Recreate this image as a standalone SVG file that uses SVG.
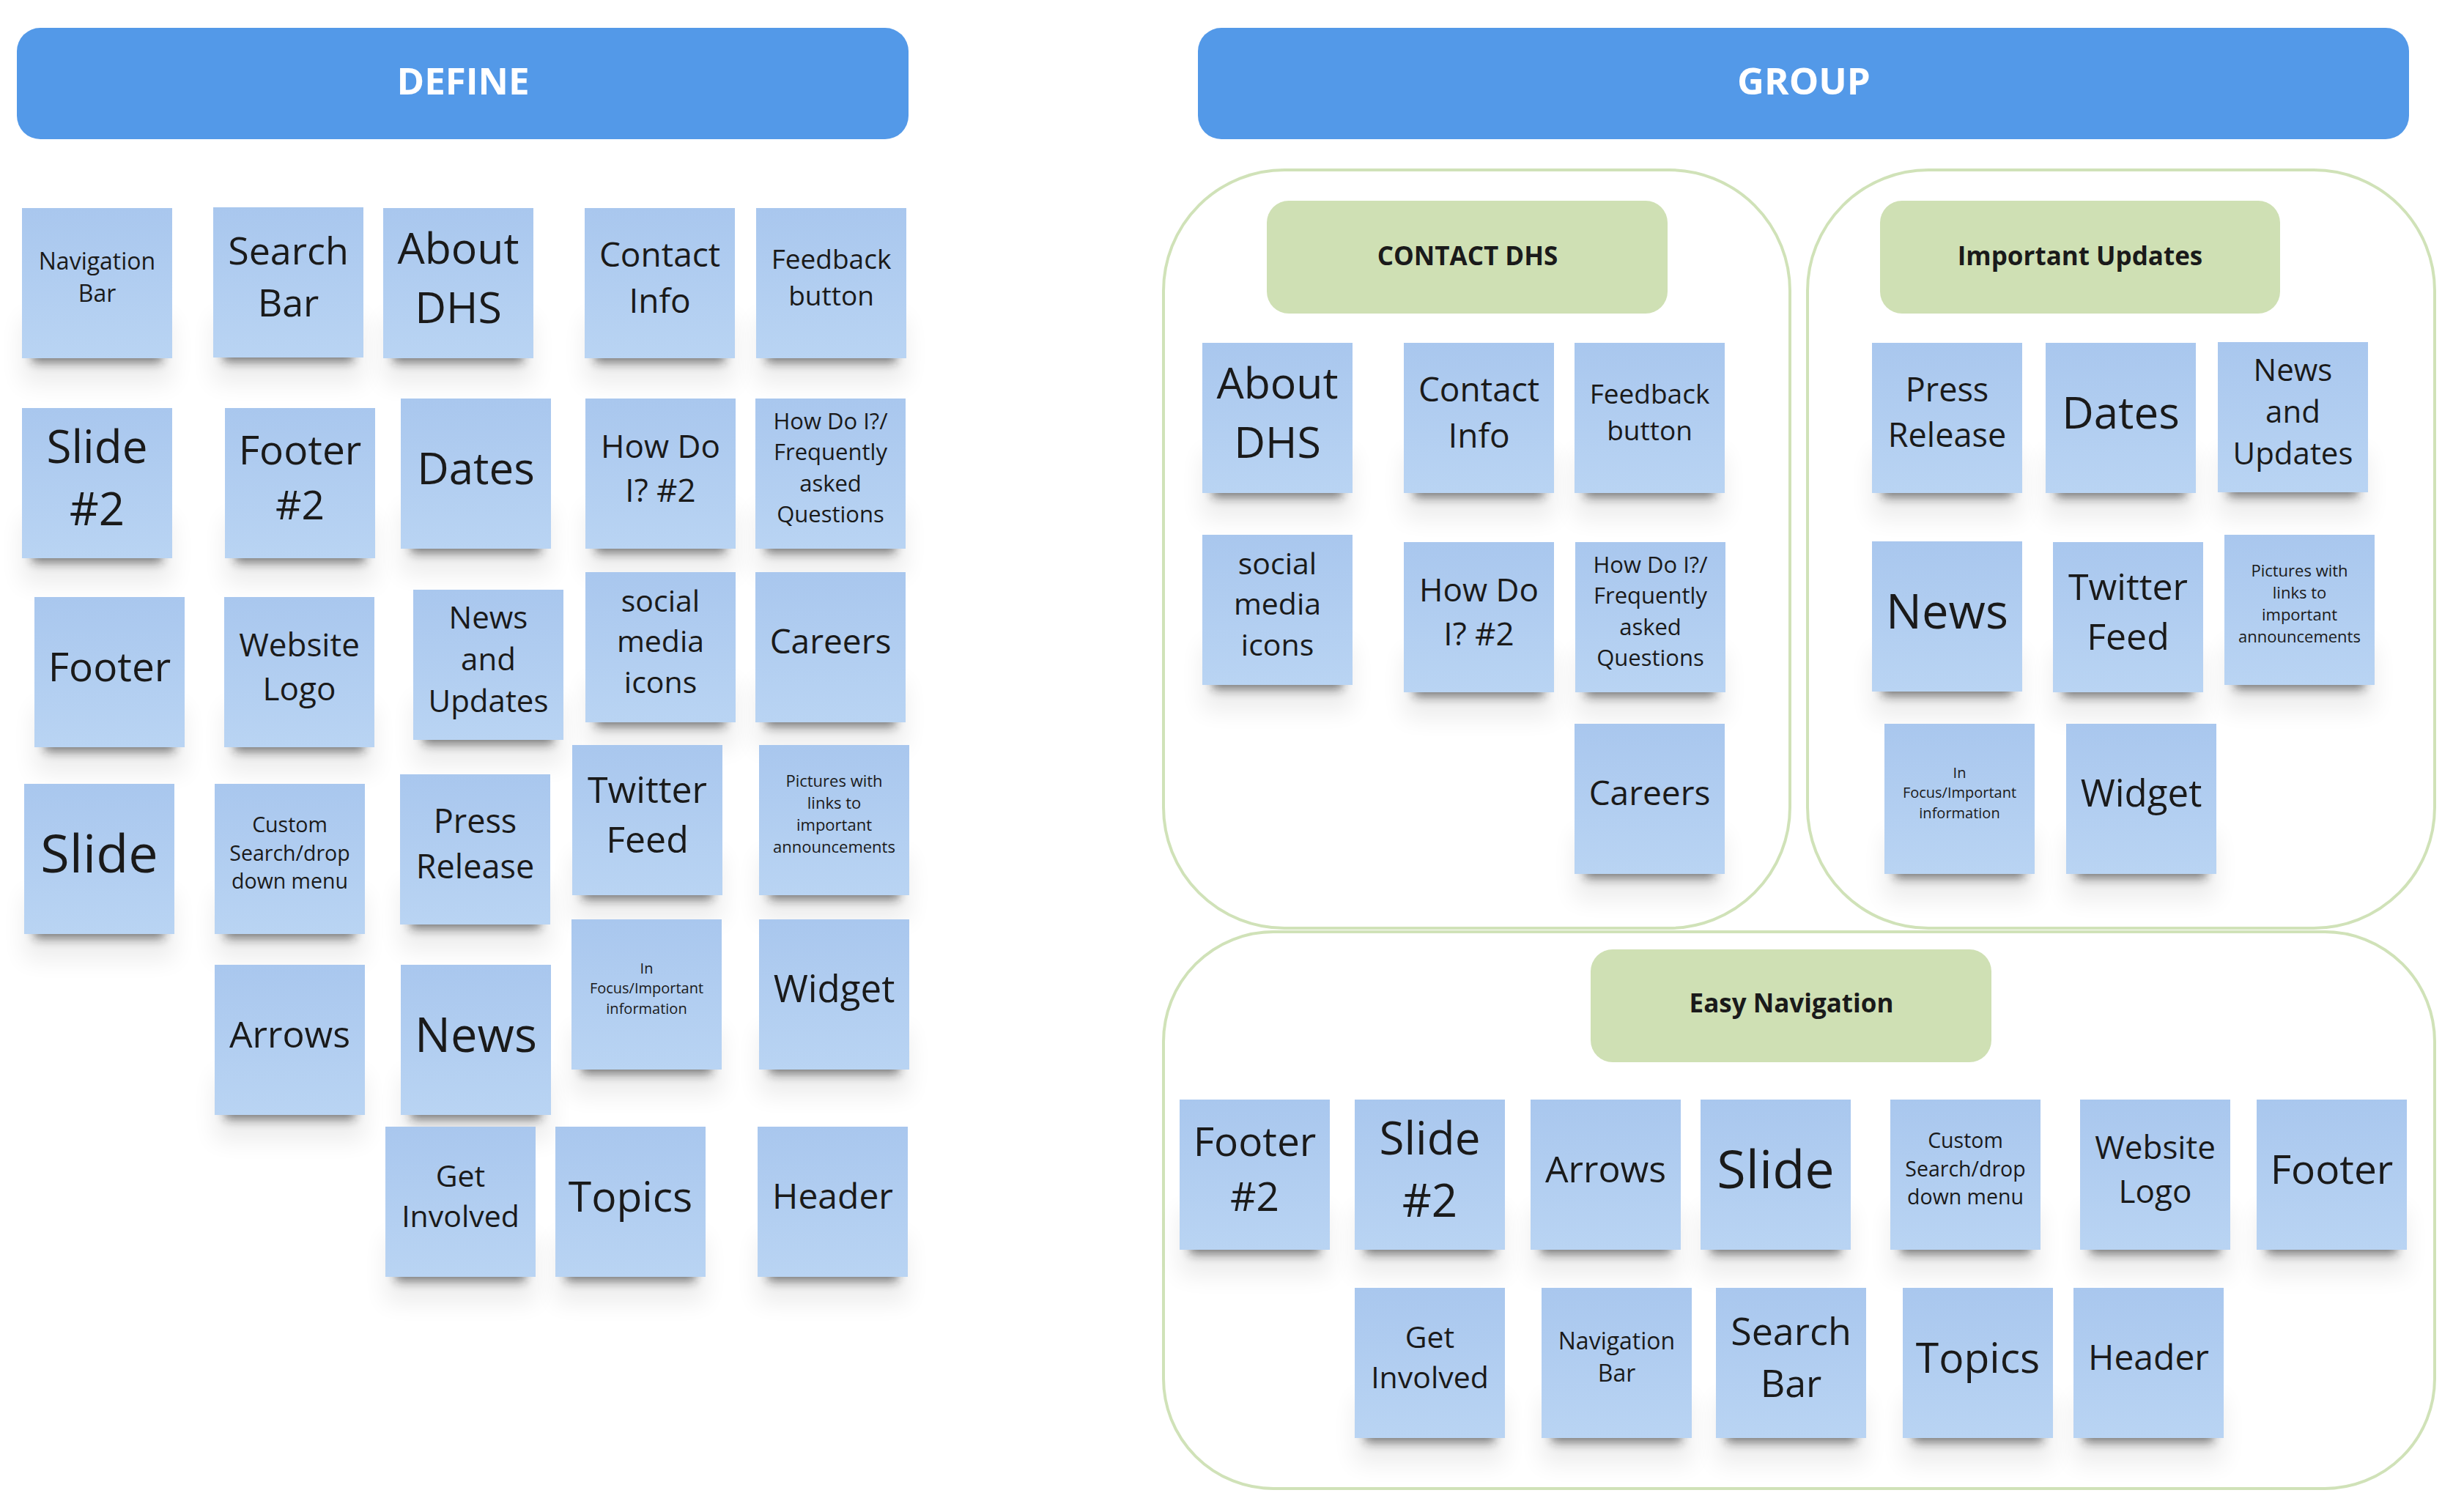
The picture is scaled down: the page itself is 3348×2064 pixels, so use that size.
<svg xmlns="http://www.w3.org/2000/svg" width="3348" height="2064" viewBox="0 0 3348 2064">
<defs>
<linearGradient id="ng" x1="0" y1="0" x2="0" y2="1">
<stop offset="0" stop-color="#A9C7EE"/>
<stop offset="1" stop-color="#B9D4F3"/>
</linearGradient>
<filter id="b1" x="-20%" y="-80%" width="140%" height="260%"><feGaussianBlur stdDeviation="7"/></filter>
<filter id="b2" x="-30%" y="-60%" width="160%" height="220%"><feGaussianBlur stdDeviation="16"/></filter>
</defs>
<style>
.note{fill:url(#ng)}
.sh{fill:#1c1c1c;opacity:.55;filter:url(#b1)}
.halo{fill:#000;opacity:.07;filter:url(#b2)}
.t{font-family:"Open Sans","Liberation Sans",sans-serif;fill:#1a1a1a;text-anchor:middle}
.hdr{fill:#5399E8}
.htxt{font-family:"Open Sans","Liberation Sans",sans-serif;font-weight:700;font-size:51px;fill:#ffffff;text-anchor:middle}
.grp{fill:#ffffff;stroke:#D0E2B8;stroke-width:4}
.lbl{fill:#CFE0B4}
.ltxt{font-family:"Open Sans","Liberation Sans",sans-serif;font-weight:700;font-size:35px;fill:#1a1a1a;text-anchor:middle}
</style>
<rect width="3348" height="2064" fill="#ffffff"/>

<g id="define-header"><rect class="hdr" x="23" y="38" width="1217" height="152" rx="32"/><text class="htxt" x="632" y="129">DEFINE</text></g>
<g id="group-header"><rect class="hdr" x="1635" y="38" width="1653" height="152" rx="32"/><text class="htxt" x="2462" y="129">GROUP</text></g>

<g id="group-contact-dhs"><rect class="grp" x="1588" y="232" width="855" height="1035" rx="165"/><rect class="lbl" x="1729" y="274" width="547" height="154" rx="30"/><text class="ltxt" x="2003" y="362">CONTACT DHS</text></g>
<g id="group-important-updates"><rect class="grp" x="2467" y="232" width="856" height="1035" rx="165"/><rect class="lbl" x="2566" y="274" width="546" height="154" rx="30"/><text class="ltxt" x="2839" y="362">Important Updates</text></g>
<g id="group-easy-navigation"><rect class="grp" x="1588" y="1272" width="1735" height="760" rx="150"/><rect class="lbl" x="2171" y="1296" width="547" height="154" rx="30"/><text class="ltxt" x="2445" y="1382">Easy Navigation</text></g>

<g id="connectors"></g>

<!-- DEFINE notes -->
<g id="d-navigation-bar" transform="translate(30 284)"><rect class="halo" x="0" y="150" width="205" height="90"/><rect class="sh" x="14" y="175" width="177" height="36"/><rect class="note" width="205" height="205"/><text class="t" x="102.5" y="84.2" font-size="32"><tspan x="102.5">Navigation</tspan><tspan x="102.5" dy="1.36em">Bar</tspan></text></g>
<g id="d-search-bar" transform="translate(291 283)"><rect class="halo" x="0" y="150" width="205" height="90"/><rect class="sh" x="14" y="175" width="177" height="36"/><rect class="note" width="205" height="205"/><text class="t" x="102.5" y="78.3" font-size="52"><tspan x="102.5">Search</tspan><tspan x="102.5" dy="1.36em">Bar</tspan></text></g>
<g id="d-about-dhs" transform="translate(523 284)"><rect class="halo" x="0" y="150" width="205" height="90"/><rect class="sh" x="14" y="175" width="177" height="36"/><rect class="note" width="205" height="205"/><text class="t" x="102.5" y="76.3" font-size="59"><tspan x="102.5">About</tspan><tspan x="102.5" dy="1.36em">DHS</tspan></text></g>
<g id="d-contact-info" transform="translate(798 284)"><rect class="halo" x="0" y="150" width="205" height="90"/><rect class="sh" x="14" y="175" width="177" height="36"/><rect class="note" width="205" height="205"/><text class="t" x="102.5" y="80.1" font-size="46"><tspan x="102.5">Contact</tspan><tspan x="102.5" dy="1.36em">Info</tspan></text></g>
<g id="d-feedback-button" transform="translate(1032 284)"><rect class="halo" x="0" y="150" width="205" height="90"/><rect class="sh" x="14" y="175" width="177" height="36"/><rect class="note" width="205" height="205"/><text class="t" x="102.5" y="82.7" font-size="37"><tspan x="102.5">Feedback</tspan><tspan x="102.5" dy="1.36em">button</tspan></text></g>

<g id="d-slide-2" transform="translate(30 557)"><rect class="halo" x="0" y="150" width="205" height="90"/><rect class="sh" x="14" y="175" width="177" height="36"/><rect class="note" width="205" height="205"/><text class="t" x="102.5" y="75.4" font-size="62"><tspan x="102.5">Slide</tspan><tspan x="102.5" dy="1.36em">#2</tspan></text></g>
<g id="d-footer-2" transform="translate(307 557)"><rect class="halo" x="0" y="150" width="205" height="90"/><rect class="sh" x="14" y="175" width="177" height="36"/><rect class="note" width="205" height="205"/><text class="t" x="102.5" y="77.4" font-size="55"><tspan x="102.5">Footer</tspan><tspan x="102.5" dy="1.36em">#2</tspan></text></g>
<g id="d-dates" transform="translate(547 544)"><rect class="halo" x="0" y="150" width="205" height="90"/><rect class="sh" x="14" y="175" width="177" height="36"/><rect class="note" width="205" height="205"/><text class="t" x="102.5" y="116.8" font-size="60">Dates</text></g>
<g id="d-how-do-i-2" transform="translate(799 544)"><rect class="halo" x="0" y="150" width="205" height="90"/><rect class="sh" x="14" y="175" width="177" height="36"/><rect class="note" width="205" height="205"/><text class="t" x="102.5" y="80.7" font-size="44"><tspan x="102.5">How Do</tspan><tspan x="102.5" dy="1.36em">I? #2</tspan></text></g>
<g id="d-how-do-i-faq" transform="translate(1031 544)"><rect class="halo" x="0" y="150" width="205" height="90"/><rect class="sh" x="14" y="175" width="177" height="36"/><rect class="note" width="205" height="205"/><text class="t" x="102.5" y="42.3" font-size="31"><tspan x="102.5">How Do I?/</tspan><tspan x="102.5" dy="1.36em">Frequently</tspan><tspan x="102.5" dy="1.36em">asked</tspan><tspan x="102.5" dy="1.36em">Questions</tspan></text></g>

<g id="d-footer" transform="translate(47 815)"><rect class="halo" x="0" y="150" width="205" height="90"/><rect class="sh" x="14" y="175" width="177" height="36"/><rect class="note" width="205" height="205"/><text class="t" x="102.5" y="114.8" font-size="55">Footer</text></g>
<g id="d-website-logo" transform="translate(306 815)"><rect class="halo" x="0" y="150" width="205" height="90"/><rect class="sh" x="14" y="175" width="177" height="36"/><rect class="note" width="205" height="205"/><text class="t" x="102.5" y="80.7" font-size="44"><tspan x="102.5">Website</tspan><tspan x="102.5" dy="1.36em">Logo</tspan></text></g>
<g id="d-news-and-updates" transform="translate(564 805)"><rect class="halo" x="0" y="150" width="205" height="90"/><rect class="sh" x="14" y="175" width="177" height="36"/><rect class="note" width="205" height="205"/><text class="t" x="102.5" y="52.7" font-size="42"><tspan x="102.5">News</tspan><tspan x="102.5" dy="1.36em">and</tspan><tspan x="102.5" dy="1.36em">Updates</tspan></text></g>
<g id="d-social-media-icons" transform="translate(799 781)"><rect class="halo" x="0" y="150" width="205" height="90"/><rect class="sh" x="14" y="175" width="177" height="36"/><rect class="note" width="205" height="205"/><text class="t" x="102.5" y="53.6" font-size="41"><tspan x="102.5">social</tspan><tspan x="102.5" dy="1.36em">media</tspan><tspan x="102.5" dy="1.36em">icons</tspan></text></g>
<g id="d-careers" transform="translate(1031 781)"><rect class="halo" x="0" y="150" width="205" height="90"/><rect class="sh" x="14" y="175" width="177" height="36"/><rect class="note" width="205" height="205"/><text class="t" x="102.5" y="111.3" font-size="46">Careers</text></g>

<g id="d-slide" transform="translate(33 1070)"><rect class="halo" x="0" y="150" width="205" height="90"/><rect class="sh" x="14" y="175" width="177" height="36"/><rect class="note" width="205" height="205"/><text class="t" x="102.5" y="121.4" font-size="72">Slide</text></g>
<g id="d-custom-search" transform="translate(293 1070)"><rect class="halo" x="0" y="150" width="205" height="90"/><rect class="sh" x="14" y="175" width="177" height="36"/><rect class="note" width="205" height="205"/><text class="t" x="102.5" y="65.8" font-size="28.5"><tspan x="102.5">Custom</tspan><tspan x="102.5" dy="1.36em">Search/drop</tspan><tspan x="102.5" dy="1.36em">down menu</tspan></text></g>
<g id="d-press-release" transform="translate(546 1057)"><rect class="halo" x="0" y="150" width="205" height="90"/><rect class="sh" x="14" y="175" width="177" height="36"/><rect class="note" width="205" height="205"/><text class="t" x="102.5" y="80.4" font-size="45"><tspan x="102.5">Press</tspan><tspan x="102.5" dy="1.36em">Release</tspan></text></g>
<g id="d-twitter-feed" transform="translate(781 1017)"><rect class="halo" x="0" y="150" width="205" height="90"/><rect class="sh" x="14" y="175" width="177" height="36"/><rect class="note" width="205" height="205"/><text class="t" x="102.5" y="78.9" font-size="50"><tspan x="102.5">Twitter</tspan><tspan x="102.5" dy="1.36em">Feed</tspan></text></g>
<g id="d-pictures-links" transform="translate(1036 1017)"><rect class="halo" x="0" y="150" width="205" height="90"/><rect class="sh" x="14" y="175" width="177" height="36"/><rect class="note" width="205" height="205"/><text class="t" x="102.5" y="57.2" font-size="22"><tspan x="102.5">Pictures with</tspan><tspan x="102.5" dy="1.36em">links to</tspan><tspan x="102.5" dy="1.36em">important</tspan><tspan x="102.5" dy="1.36em">announcements</tspan></text></g>

<g id="d-arrows" transform="translate(293 1317)"><rect class="halo" x="0" y="150" width="205" height="90"/><rect class="sh" x="14" y="175" width="177" height="36"/><rect class="note" width="205" height="205"/><text class="t" x="102.5" y="112.9" font-size="50">Arrows</text></g>
<g id="d-news" transform="translate(547 1317)"><rect class="halo" x="0" y="150" width="205" height="90"/><rect class="sh" x="14" y="175" width="177" height="36"/><rect class="note" width="205" height="205"/><text class="t" x="102.5" y="118.7" font-size="65">News</text></g>
<g id="d-in-focus" transform="translate(780 1255)"><rect class="halo" x="0" y="150" width="205" height="90"/><rect class="sh" x="14" y="175" width="177" height="36"/><rect class="note" width="205" height="205"/><text class="t" x="102.5" y="74.1" font-size="20"><tspan x="102.5">In</tspan><tspan x="102.5" dy="1.36em">Focus/Important</tspan><tspan x="102.5" dy="1.36em">information</tspan></text></g>
<g id="d-widget" transform="translate(1036 1255)"><rect class="halo" x="0" y="150" width="205" height="90"/><rect class="sh" x="14" y="175" width="177" height="36"/><rect class="note" width="205" height="205"/><text class="t" x="102.5" y="113.3" font-size="51">Widget</text></g>

<g id="d-get-involved" transform="translate(526 1538)"><rect class="halo" x="0" y="150" width="205" height="90"/><rect class="sh" x="14" y="175" width="177" height="36"/><rect class="note" width="205" height="205"/><text class="t" x="102.5" y="81.5" font-size="41"><tspan x="102.5">Get</tspan><tspan x="102.5" dy="1.36em">Involved</tspan></text></g>
<g id="d-topics" transform="translate(758 1538)"><rect class="halo" x="0" y="150" width="205" height="90"/><rect class="sh" x="14" y="175" width="177" height="36"/><rect class="note" width="205" height="205"/><text class="t" x="102.5" y="115.6" font-size="57">Topics</text></g>
<g id="d-header" transform="translate(1034 1538)"><rect class="halo" x="0" y="150" width="205" height="90"/><rect class="sh" x="14" y="175" width="177" height="36"/><rect class="note" width="205" height="205"/><text class="t" x="102.5" y="112.1" font-size="48">Header</text></g>

<!-- CONTACT DHS notes -->
<g id="c-about-dhs" transform="translate(1641 468)"><rect class="halo" x="0" y="150" width="205" height="90"/><rect class="sh" x="14" y="175" width="177" height="36"/><rect class="note" width="205" height="205"/><text class="t" x="102.5" y="76.3" font-size="59"><tspan x="102.5">About</tspan><tspan x="102.5" dy="1.36em">DHS</tspan></text></g>
<g id="c-contact-info" transform="translate(1916 468)"><rect class="halo" x="0" y="150" width="205" height="90"/><rect class="sh" x="14" y="175" width="177" height="36"/><rect class="note" width="205" height="205"/><text class="t" x="102.5" y="80.1" font-size="46"><tspan x="102.5">Contact</tspan><tspan x="102.5" dy="1.36em">Info</tspan></text></g>
<g id="c-feedback-button" transform="translate(2149 468)"><rect class="halo" x="0" y="150" width="205" height="90"/><rect class="sh" x="14" y="175" width="177" height="36"/><rect class="note" width="205" height="205"/><text class="t" x="102.5" y="82.7" font-size="37"><tspan x="102.5">Feedback</tspan><tspan x="102.5" dy="1.36em">button</tspan></text></g>
<g id="c-social-media-icons" transform="translate(1641 730)"><rect class="halo" x="0" y="150" width="205" height="90"/><rect class="sh" x="14" y="175" width="177" height="36"/><rect class="note" width="205" height="205"/><text class="t" x="102.5" y="53.6" font-size="41"><tspan x="102.5">social</tspan><tspan x="102.5" dy="1.36em">media</tspan><tspan x="102.5" dy="1.36em">icons</tspan></text></g>
<g id="c-how-do-i-2" transform="translate(1916 740)"><rect class="halo" x="0" y="150" width="205" height="90"/><rect class="sh" x="14" y="175" width="177" height="36"/><rect class="note" width="205" height="205"/><text class="t" x="102.5" y="80.7" font-size="44"><tspan x="102.5">How Do</tspan><tspan x="102.5" dy="1.36em">I? #2</tspan></text></g>
<g id="c-how-do-i-faq" transform="translate(2150 740)"><rect class="halo" x="0" y="150" width="205" height="90"/><rect class="sh" x="14" y="175" width="177" height="36"/><rect class="note" width="205" height="205"/><text class="t" x="102.5" y="42.3" font-size="31"><tspan x="102.5">How Do I?/</tspan><tspan x="102.5" dy="1.36em">Frequently</tspan><tspan x="102.5" dy="1.36em">asked</tspan><tspan x="102.5" dy="1.36em">Questions</tspan></text></g>
<g id="c-careers" transform="translate(2149 988)"><rect class="halo" x="0" y="150" width="205" height="90"/><rect class="sh" x="14" y="175" width="177" height="36"/><rect class="note" width="205" height="205"/><text class="t" x="102.5" y="111.3" font-size="46">Careers</text></g>

<!-- Important Updates notes -->
<g id="i-press-release" transform="translate(2555 468)"><rect class="halo" x="0" y="150" width="205" height="90"/><rect class="sh" x="14" y="175" width="177" height="36"/><rect class="note" width="205" height="205"/><text class="t" x="102.5" y="80.4" font-size="45"><tspan x="102.5">Press</tspan><tspan x="102.5" dy="1.36em">Release</tspan></text></g>
<g id="i-dates" transform="translate(2792 468)"><rect class="halo" x="0" y="150" width="205" height="90"/><rect class="sh" x="14" y="175" width="177" height="36"/><rect class="note" width="205" height="205"/><text class="t" x="102.5" y="116.8" font-size="60">Dates</text></g>
<g id="i-news-and-updates" transform="translate(3027 467)"><rect class="halo" x="0" y="150" width="205" height="90"/><rect class="sh" x="14" y="175" width="177" height="36"/><rect class="note" width="205" height="205"/><text class="t" x="102.5" y="52.7" font-size="42"><tspan x="102.5">News</tspan><tspan x="102.5" dy="1.36em">and</tspan><tspan x="102.5" dy="1.36em">Updates</tspan></text></g>
<g id="i-news" transform="translate(2555 739)"><rect class="halo" x="0" y="150" width="205" height="90"/><rect class="sh" x="14" y="175" width="177" height="36"/><rect class="note" width="205" height="205"/><text class="t" x="102.5" y="118.7" font-size="65">News</text></g>
<g id="i-twitter-feed" transform="translate(2802 740)"><rect class="halo" x="0" y="150" width="205" height="90"/><rect class="sh" x="14" y="175" width="177" height="36"/><rect class="note" width="205" height="205"/><text class="t" x="102.5" y="78.9" font-size="50"><tspan x="102.5">Twitter</tspan><tspan x="102.5" dy="1.36em">Feed</tspan></text></g>
<g id="i-pictures-links" transform="translate(3036 730)"><rect class="halo" x="0" y="150" width="205" height="90"/><rect class="sh" x="14" y="175" width="177" height="36"/><rect class="note" width="205" height="205"/><text class="t" x="102.5" y="57.2" font-size="22"><tspan x="102.5">Pictures with</tspan><tspan x="102.5" dy="1.36em">links to</tspan><tspan x="102.5" dy="1.36em">important</tspan><tspan x="102.5" dy="1.36em">announcements</tspan></text></g>
<g id="i-in-focus" transform="translate(2572 988)"><rect class="halo" x="0" y="150" width="205" height="90"/><rect class="sh" x="14" y="175" width="177" height="36"/><rect class="note" width="205" height="205"/><text class="t" x="102.5" y="74.1" font-size="20"><tspan x="102.5">In</tspan><tspan x="102.5" dy="1.36em">Focus/Important</tspan><tspan x="102.5" dy="1.36em">information</tspan></text></g>
<g id="i-widget" transform="translate(2820 988)"><rect class="halo" x="0" y="150" width="205" height="90"/><rect class="sh" x="14" y="175" width="177" height="36"/><rect class="note" width="205" height="205"/><text class="t" x="102.5" y="113.3" font-size="51">Widget</text></g>

<!-- Easy Navigation notes -->
<g id="e-footer-2" transform="translate(1610 1501)"><rect class="halo" x="0" y="150" width="205" height="90"/><rect class="sh" x="14" y="175" width="177" height="36"/><rect class="note" width="205" height="205"/><text class="t" x="102.5" y="77.4" font-size="55"><tspan x="102.5">Footer</tspan><tspan x="102.5" dy="1.36em">#2</tspan></text></g>
<g id="e-slide-2" transform="translate(1849 1501)"><rect class="halo" x="0" y="150" width="205" height="90"/><rect class="sh" x="14" y="175" width="177" height="36"/><rect class="note" width="205" height="205"/><text class="t" x="102.5" y="75.4" font-size="62"><tspan x="102.5">Slide</tspan><tspan x="102.5" dy="1.36em">#2</tspan></text></g>
<g id="e-arrows" transform="translate(2089 1501)"><rect class="halo" x="0" y="150" width="205" height="90"/><rect class="sh" x="14" y="175" width="177" height="36"/><rect class="note" width="205" height="205"/><text class="t" x="102.5" y="112.9" font-size="50">Arrows</text></g>
<g id="e-slide" transform="translate(2321 1501)"><rect class="halo" x="0" y="150" width="205" height="90"/><rect class="sh" x="14" y="175" width="177" height="36"/><rect class="note" width="205" height="205"/><text class="t" x="102.5" y="121.4" font-size="72">Slide</text></g>
<g id="e-custom-search" transform="translate(2580 1501)"><rect class="halo" x="0" y="150" width="205" height="90"/><rect class="sh" x="14" y="175" width="177" height="36"/><rect class="note" width="205" height="205"/><text class="t" x="102.5" y="65.8" font-size="28.5"><tspan x="102.5">Custom</tspan><tspan x="102.5" dy="1.36em">Search/drop</tspan><tspan x="102.5" dy="1.36em">down menu</tspan></text></g>
<g id="e-website-logo" transform="translate(2839 1501)"><rect class="halo" x="0" y="150" width="205" height="90"/><rect class="sh" x="14" y="175" width="177" height="36"/><rect class="note" width="205" height="205"/><text class="t" x="102.5" y="80.7" font-size="44"><tspan x="102.5">Website</tspan><tspan x="102.5" dy="1.36em">Logo</tspan></text></g>
<g id="e-footer" transform="translate(3080 1501)"><rect class="halo" x="0" y="150" width="205" height="90"/><rect class="sh" x="14" y="175" width="177" height="36"/><rect class="note" width="205" height="205"/><text class="t" x="102.5" y="114.8" font-size="55">Footer</text></g>
<g id="e-get-involved" transform="translate(1849 1758)"><rect class="halo" x="0" y="150" width="205" height="90"/><rect class="sh" x="14" y="175" width="177" height="36"/><rect class="note" width="205" height="205"/><text class="t" x="102.5" y="81.5" font-size="41"><tspan x="102.5">Get</tspan><tspan x="102.5" dy="1.36em">Involved</tspan></text></g>
<g id="e-navigation-bar" transform="translate(2104 1758)"><rect class="halo" x="0" y="150" width="205" height="90"/><rect class="sh" x="14" y="175" width="177" height="36"/><rect class="note" width="205" height="205"/><text class="t" x="102.5" y="84.2" font-size="32"><tspan x="102.5">Navigation</tspan><tspan x="102.5" dy="1.36em">Bar</tspan></text></g>
<g id="e-search-bar" transform="translate(2342 1758)"><rect class="halo" x="0" y="150" width="205" height="90"/><rect class="sh" x="14" y="175" width="177" height="36"/><rect class="note" width="205" height="205"/><text class="t" x="102.5" y="78.3" font-size="52"><tspan x="102.5">Search</tspan><tspan x="102.5" dy="1.36em">Bar</tspan></text></g>
<g id="e-topics" transform="translate(2597 1758)"><rect class="halo" x="0" y="150" width="205" height="90"/><rect class="sh" x="14" y="175" width="177" height="36"/><rect class="note" width="205" height="205"/><text class="t" x="102.5" y="115.6" font-size="57">Topics</text></g>
<g id="e-header" transform="translate(2830 1758)"><rect class="halo" x="0" y="150" width="205" height="90"/><rect class="sh" x="14" y="175" width="177" height="36"/><rect class="note" width="205" height="205"/><text class="t" x="102.5" y="112.1" font-size="48">Header</text></g>
</svg>
